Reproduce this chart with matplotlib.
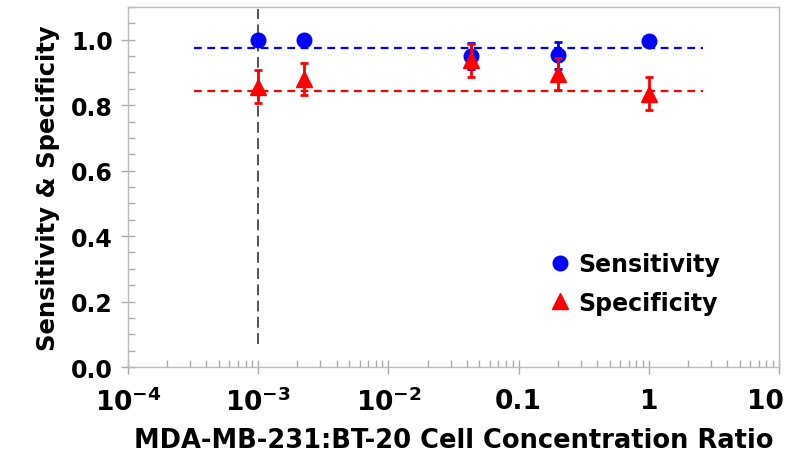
import matplotlib
matplotlib.use("Agg")
import matplotlib.pyplot as plt
import matplotlib.transforms as mtransforms
import numpy as np
from matplotlib.ticker import FixedLocator, FixedFormatter, MultipleLocator, LogLocator, NullFormatter
from matplotlib.lines import Line2D

ratios = [1e-3, 2.26e-3, 0.043, 0.2, 1.0]
sensitivity = [1.0, 1.0, 0.95, 0.952, 0.997]
sens_err = [0.0, 0.0, 0.04, 0.04, 0.0]
specificity = [0.857, 0.88, 0.937, 0.895, 0.835]
spec_err = [0.05, 0.05, 0.05, 0.05, 0.05]
sens_mean = 0.974
spec_mean = 0.843
mean_line_x = [3.2e-4, 2.6]
lod_x = 1e-3
lod_y = [0.07, 1.093]
xtick_vals = [1e-4, 1e-3, 1e-2, 0.1, 1, 10]
xtick_labels = [r'$\mathbf{10^{-4}}$', r'$\mathbf{10^{-3}}$', r'$\mathbf{10^{-2}}$', '0.1', '1', '10']
ytick_vals = [0.0, 0.2, 0.4, 0.6, 0.8, 1.0]

plt.rcParams['font.family'] = ['DejaVu Sans']
plt.rcParams['mathtext.fontset'] = 'dejavusans'

fig = plt.figure(figsize=(7.88, 4.6), dpi=100)
L, R, T, B = 128, 779, 8, 368
ax = fig.add_axes([L/788, 1-B/460, (R-L)/788, (B-T)/460])

ax.plot(mean_line_x, [sens_mean]*2, color='#0000ff', ls=(0, (3.5, 2.5)), lw=1.6)
ax.plot(mean_line_x, [spec_mean]*2, color='#ff0000', ls=(0, (3.5, 2.5)), lw=1.6)
ax.plot([lod_x, lod_x], lod_y, color='#444444', ls=(0, (6, 3)), lw=1.3)

ax.errorbar(ratios, sensitivity, yerr=sens_err, fmt='o', color='#0000ff', ms=10.5,
            capsize=3, elinewidth=2, capthick=2, zorder=4)
ax.errorbar(ratios, specificity, yerr=spec_err, fmt='^', color='#ff0000', ms=11,
            capsize=3, elinewidth=2, capthick=2, zorder=5)

ax.set_xscale('log')
ax.set_xlim(1e-4, 10)
ax.set_ylim(0, 1.1)
ax.xaxis.set_major_locator(FixedLocator(xtick_vals))
ax.xaxis.set_major_formatter(FixedFormatter(xtick_labels))
ax.xaxis.set_minor_locator(LogLocator(base=10, subs=np.arange(2, 10)))
ax.xaxis.set_minor_formatter(NullFormatter())
ax.yaxis.set_major_locator(FixedLocator(ytick_vals))
ax.yaxis.set_minor_locator(MultipleLocator(0.05))
ax.set_yticklabels([f'{v:.1f}' for v in ytick_vals])

for s in ax.spines.values():
    s.set_color('#bbbbbb')
    s.set_linewidth(1.0)
ax.tick_params(which='major', direction='inout', length=10, color='#aaaaaa', width=1,
               labelsize=17, pad=6)
ax.tick_params(which='minor', direction='in', length=5, color='#aaaaaa', width=1)
ax.tick_params(axis='x', labelsize=19, pad=10)
for lab in ax.get_xticklabels() + ax.get_yticklabels():
    lab.set_fontweight('bold')

# keep the last x tick label inside the figure, as in the reference
fig.canvas.draw()
last = ax.get_xticklabels()[-1]
last.set_transform(last.get_transform() + mtransforms.ScaledTranslation(-14/100, 0, fig.dpi_scale_trans))

ax.set_xlabel('MDA-MB-231:BT-20 Cell Concentration Ratio', fontsize=18.5, fontweight='bold', labelpad=8)
ax.set_ylabel('Sensitivity & Specificity', fontsize=17.5, fontweight='bold', labelpad=8)

handles = [Line2D([], [], marker='o', color='#0000ff', ls='none', ms=10.5),
           Line2D([], [], marker='^', color='#ff0000', ls='none', ms=11)]
ax.legend(handles, ['Sensitivity', 'Specificity'], loc='upper left',
          bbox_to_anchor=((536 - L)/(R - L), (B - 244)/(B - T)),
          frameon=False, prop={'weight': 'bold', 'size': 17}, handletextpad=0.2,
          handlelength=1.2, labelspacing=0.6, borderaxespad=0)

fig.savefig('out.png', dpi=100)
